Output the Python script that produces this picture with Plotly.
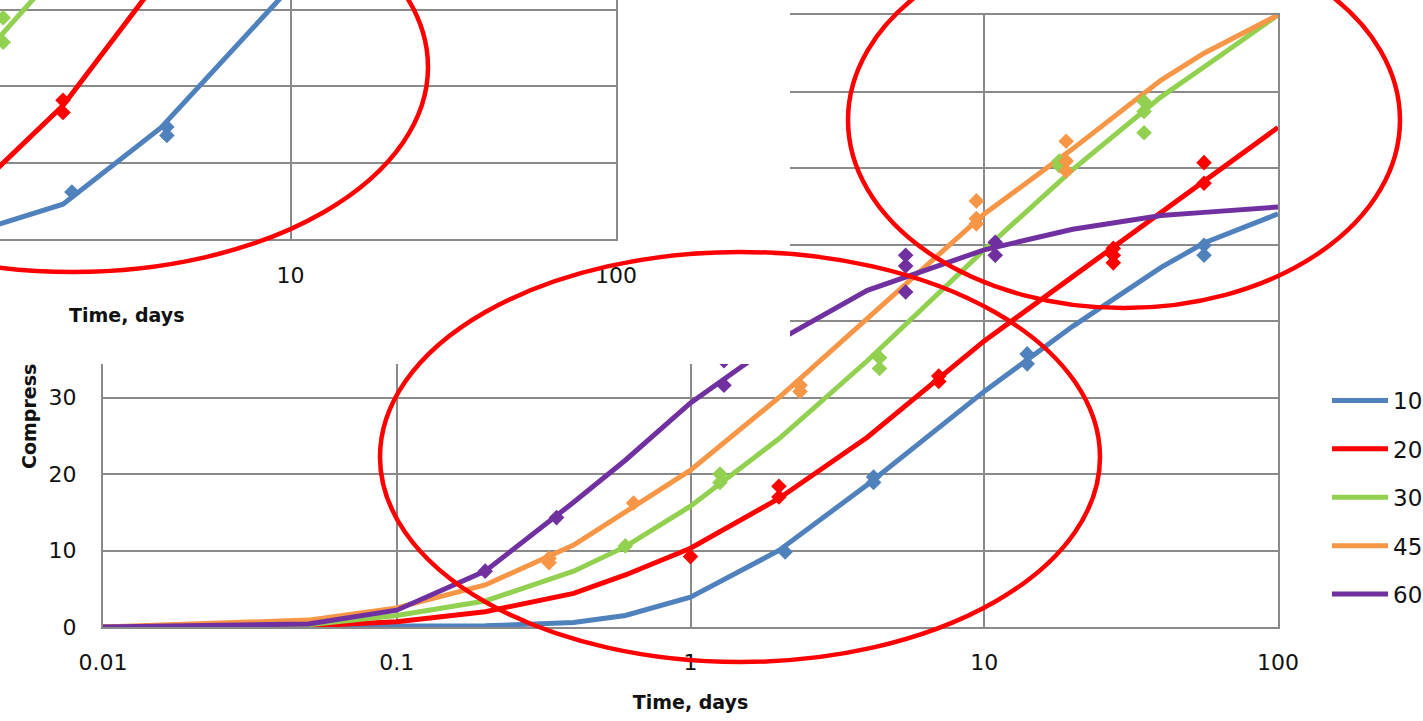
import plotly.graph_objects as go

# ---------------- main chart data ----------------
# model curve times (days)
t_model = [0.01, 0.05, 0.1, 0.2, 0.4, 0.6, 1, 2, 4, 10, 20, 40, 56, 100]

series_names = ["10", "20", "30", "45", "60"]
series_colors = ["#4F81BD", "#FF0000", "#92D050", "#F79646", "#7030A0"]

model_10 = [0, 0, 0.05, 0.15, 0.6, 1.5, 3.9, 10.0, 18.6, 30.8, 39.3, 47.0, 50.2, 54.0]
model_20 = [0, 0.15, 0.7, 2.0, 4.4, 6.8, 10.3, 16.8, 24.8, 37.4, 45.8, 54.2, 58.3, 65.3]
model_30 = [0, 0.3, 1.5, 3.4, 7.3, 10.5, 15.8, 24.6, 34.8, 49.3, 59.8, 69.3, 73.2, 80.0]
model_45 = [0, 0.9, 2.5, 5.5, 10.7, 15.0, 20.5, 30.0, 40.3, 54.0, 62.5, 71.5, 75.0, 80.0]
model_60 = [0, 0.4, 2.2, 7.3, 16.3, 21.8, 29.3, 37.5, 44.0, 49.3, 52.0, 53.8, 54.2, 54.9]

# measured strengths
meas_t_10 = [2.1, 4.2, 4.2, 14, 14, 56, 56]
meas_v_10 = [9.8, 19.6, 18.9, 35.7, 34.4, 49.9, 48.6]
meas_t_20 = [1.0, 2.0, 2.0, 7.0, 7.0, 27.5, 27.5, 27.5, 56, 56]
meas_v_20 = [9.2, 18.4, 17.0, 32.8, 32.1, 49.5, 48.6, 47.6, 60.7, 58.0]
meas_t_30 = [0.6, 1.26, 1.26, 4.4, 4.4, 18, 18, 35, 35, 35]
meas_v_30 = [10.6, 20.0, 18.9, 35.2, 33.8, 60.9, 60.3, 68.7, 67.4, 64.6]
meas_t_45 = [0.33, 0.33, 0.64, 2.36, 2.36, 9.4, 9.4, 9.4, 19, 19, 19]
meas_v_45 = [9.0, 8.4, 16.2, 31.6, 30.8, 55.7, 53.4, 52.7, 63.5, 60.9, 59.6]
meas_t_60 = [0.2, 0.35, 1.3, 1.3, 5.4, 5.4, 5.4, 10.9, 10.9]
meas_v_60 = [7.3, 14.3, 31.6, 34.8, 48.6, 47.2, 43.8, 50.3, 48.6]

x_ticks = [0.01, 0.1, 1, 10, 100]
x_ticktext = ["0.01", "0.1", "1", "10", "100"]
y_ticks = [0, 10, 20, 30, 40, 50, 60, 70, 80]
# upper labels sit under the blank panel, so they are left empty
y_ticktext = ["0", "10", "20", "30", "", "", "", "", ""]

# ---------------- inset chart data ----------------
inset_t_10 = [1, 2, 4, 10]
inset_v_10 = [0.6, 4.6, 14.6, 33.0]
inset_t_20 = [1, 2, 4]
inset_v_20 = [5.2, 17.5, 34.4]
inset_t_30 = [1, 2]
inset_v_30 = [21.4, 35.8]

inset_meas_t_10 = [2.13, 4.17, 4.17]
inset_meas_v_10 = [6.2, 14.7, 13.6]
inset_meas_t_20 = [2.0, 2.0]
inset_meas_v_20 = [18.2, 16.6]
inset_meas_t_30 = [1.31, 1.31]
inset_meas_v_30 = [29.0, 25.8]

inset_x_ticks = [10, 100]
inset_x_ticktext = ["10", "100"]

# ---------------- figure geometry (pixels) ----------------
W, H = 1423, 721


def px(x):
    return x / W


def py(y):
    return 1 - y / H


GRID = "#8A8A8A"
FONT = "DejaVu Sans"
LINE_W = 5
MARK = 12

fig = go.Figure()

models = [model_10, model_20, model_30, model_45, model_60]
meas = [(meas_t_10, meas_v_10), (meas_t_20, meas_v_20), (meas_t_30, meas_v_30),
        (meas_t_45, meas_v_45), (meas_t_60, meas_v_60)]

for name, col, vals in zip(series_names, series_colors, models):
    fig.add_trace(go.Scatter(x=t_model, y=vals, mode="lines", name=name,
                             legendgroup=name,
                             line=dict(color=col, width=LINE_W),
                             xaxis="x", yaxis="y"))
for name, col, (tt, vv) in zip(series_names, series_colors, meas):
    fig.add_trace(go.Scatter(x=tt, y=vv, mode="markers", name=name,
                             legendgroup=name, showlegend=False,
                             marker=dict(symbol="diamond", size=MARK, color=col),
                             xaxis="x", yaxis="y"))

# blank panel laid over the upper-left part of the main chart
fig.add_trace(go.Scatter(x=[None], y=[None], mode="lines", showlegend=False,
                         hoverinfo="skip", xaxis="x2", yaxis="y2"))

# inset chart
inset_lines = [(inset_t_10, inset_v_10, series_colors[0]),
               (inset_t_20, inset_v_20, series_colors[1]),
               (inset_t_30, inset_v_30, series_colors[2])]
inset_marks = [(inset_meas_t_10, inset_meas_v_10, series_colors[0]),
               (inset_meas_t_20, inset_meas_v_20, series_colors[1]),
               (inset_meas_t_30, inset_meas_v_30, series_colors[2])]
for tt, vv, col in inset_lines:
    fig.add_trace(go.Scatter(x=tt, y=vv, mode="lines", showlegend=False,
                             line=dict(color=col, width=LINE_W),
                             xaxis="x3", yaxis="y3"))
for tt, vv, col in inset_marks:
    fig.add_trace(go.Scatter(x=tt, y=vv, mode="markers", showlegend=False,
                             marker=dict(symbol="diamond", size=MARK, color=col),
                             xaxis="x3", yaxis="y3"))

tick_font = dict(family=FONT, size=22, color="#111111")
title_font = dict(family=FONT, size=19, color="#111111", weight="bold")

fig.update_layout(
    width=W, height=H,
    margin=dict(l=0, r=0, t=0, b=0, autoexpand=False),
    paper_bgcolor="white", plot_bgcolor="white",
    showlegend=True,
    legend=dict(x=px(1327), y=py(379), xanchor="left", yanchor="top",
                font=dict(family=FONT, size=23, color="#111111"),
                tracegroupgap=15.5, itemwidth=56, bgcolor="rgba(0,0,0,0)"),
    xaxis=dict(type="log", range=[-2, 2], domain=[px(103), px(1278)], anchor="y",
               tickvals=x_ticks, ticktext=x_ticktext, tickfont=tick_font,
               ticks="", ticklabelstandoff=15,
               showgrid=True, gridcolor=GRID, gridwidth=2,
               showline=True, linecolor=GRID, linewidth=2, mirror=True,
               zeroline=False,
               title=dict(text="Time, days", font=title_font, standoff=21)),
    yaxis=dict(range=[0, 80], domain=[py(627), py(15)], anchor="x",
               tickvals=y_ticks, ticktext=y_ticktext, tickfont=tick_font, ticks="",
               ticklabelstandoff=20,
               showgrid=True, gridcolor=GRID, gridwidth=2,
               showline=True, linecolor=GRID, linewidth=2, mirror=True,
               zeroline=False),
    xaxis2=dict(domain=[0, px(790)], anchor="y2", visible=False, range=[0, 1]),
    yaxis2=dict(domain=[py(364), 1], anchor="x2", visible=False, range=[0, 1]),
    xaxis3=dict(type="log", range=[0.1075, 2], domain=[0, px(616)], anchor="y3",
                tickvals=inset_x_ticks, ticktext=inset_x_ticktext, tickfont=tick_font,
                ticks="", ticklabelstandoff=15,
                showgrid=True, gridcolor=GRID, gridwidth=2,
                showline=True, linecolor=GRID, linewidth=2, mirror=False,
                zeroline=False),
    yaxis3=dict(range=[0, 31.32], domain=[py(239.3), 1], anchor="x3", side="right",
                dtick=10, showticklabels=False, ticks="",
                showgrid=True, gridcolor=GRID, gridwidth=2,
                showline=True, linecolor=GRID, linewidth=2,
                zeroline=False),
    annotations=[
        dict(text="Compress", x=px(29), y=py(417), xref="paper", yref="paper",
             textangle=-90, showarrow=False, font=title_font,
             xanchor="center", yanchor="middle"),
        dict(text="Time, days", x=px(127), y=py(315), xref="paper", yref="paper",
             showarrow=False, font=title_font, xanchor="center", yanchor="middle"),
    ],
)

# red ellipses highlighting regions of the chart
ellipses = [(-282, 428, -138, 272), (848, 1400, -68, 308), (380, 1100, 252, 662)]
for x0, x1, y0, y1 in ellipses:
    fig.add_shape(type="circle", xref="paper", yref="paper",
                  x0=px(x0), x1=px(x1), y0=py(y1), y1=py(y0),
                  line=dict(color="#FF0000", width=4.5), layer="above")

fig.write_html("out.html")
